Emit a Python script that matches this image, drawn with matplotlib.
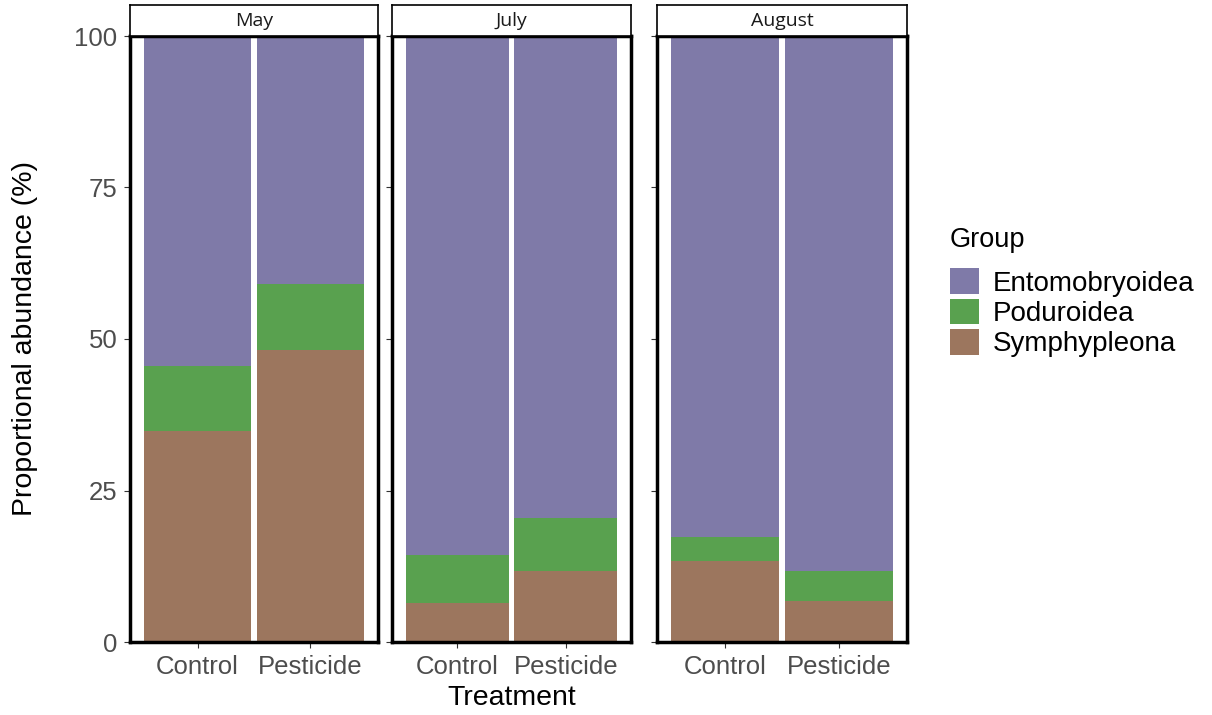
import matplotlib
matplotlib.use("Agg")
import matplotlib.pyplot as plt
from matplotlib.patches import Patch
import numpy as np

plt.rcParams['font.family'] = ['Liberation Sans', 'DejaVu Sans']

months = ["May", "July", "August"]
treatments = ["Control", "Pesticide"]
groups = ["Entomobryoidea", "Poduroidea", "Symphypleona"]
# values per month: [Control, Pesticide]
symphypleona = {"May": [34.8, 48.2], "July": [6.4, 11.7], "August": [13.4, 6.8]}
poduroidea = {"May": [10.7, 10.9], "July": [8.0, 8.8], "August": [3.9, 4.9]}
entomobryoidea = {m: [100 - s - p for s, p in zip(symphypleona[m], poduroidea[m])] for m in months}
colors = {"Entomobryoidea": "#7F7AA8", "Poduroidea": "#59A14F", "Symphypleona": "#9C765E"}
yticks = [0, 25, 50, 75, 100]

W, H = 1212, 715
fig = plt.figure(figsize=(W / 100, H / 100), dpi=100)

panels = [(130, 378), (392, 631), (657, 907)]
top_px, bot_px = 36, 642
strip_top = 5

def fx(px):
    return px / W

def fy(py):
    return 1 - py / H

for i, (m, (x0, x1)) in enumerate(zip(months, panels)):
    ax = fig.add_axes([fx(x0), fy(bot_px), fx(x1 - x0), fy(top_px) - fy(bot_px)])
    x = np.arange(len(treatments))
    s = np.array(symphypleona[m]); p = np.array(poduroidea[m]); e = np.array(entomobryoidea[m])
    ax.bar(x, s, width=0.95, color=colors["Symphypleona"], linewidth=0)
    ax.bar(x, p, bottom=s, width=0.95, color=colors["Poduroidea"], linewidth=0)
    ax.bar(x, e, bottom=s + p, width=0.95, color=colors["Entomobryoidea"], linewidth=0)
    ax.set_xlim(-0.6, 1.6)
    ax.set_ylim(0, 100)
    ax.set_xticks(x)
    ax.set_xticklabels(treatments, fontsize=18.5, color="#4D4D4D")
    ax.set_yticks(yticks)
    if i == 0:
        ax.set_yticklabels([str(t) for t in yticks], fontsize=18.5, color="#4D4D4D")
        ax.set_ylabel("Proportional abundance (%)", fontsize=20.5, labelpad=26)
    else:
        ax.set_yticklabels([])
    if i == 1:
        ax.set_xlabel("Treatment", fontsize=20.5, labelpad=5)
    ax.tick_params(axis="both", length=4, width=0.8, color="#333333", pad=5)
    for sp in ax.spines.values():
        sp.set_linewidth(2.5)
        sp.set_color("black")
    sax = fig.add_axes([fx(x0), fy(top_px), fx(x1 - x0), fy(strip_top) - fy(top_px)])
    sax.set_xticks([]); sax.set_yticks([])
    for sp in sax.spines.values():
        sp.set_linewidth(1.2)
        sp.set_color("black")
    sax.text(0.5, 0.5, m, ha="center", va="center", fontsize=14, color="#1A1A1A",
             family=["Open Sans", "DejaVu Sans"], transform=sax.transAxes)

handles = [Patch(facecolor=colors[g], edgecolor="none", label=g) for g in groups]
leg = fig.legend(handles=handles, title="Group", loc="upper left",
                 bbox_to_anchor=(fx(939), fy(216)), frameon=False, fontsize=20,
                 title_fontsize=19.5, handlelength=1.05, handleheight=1.05,
                 labelspacing=0.07, handletextpad=0.5, borderaxespad=0)
leg._legend_box.align = "left"
leg._legend_box.sep = 11

fig.savefig("out.png", dpi=100)
